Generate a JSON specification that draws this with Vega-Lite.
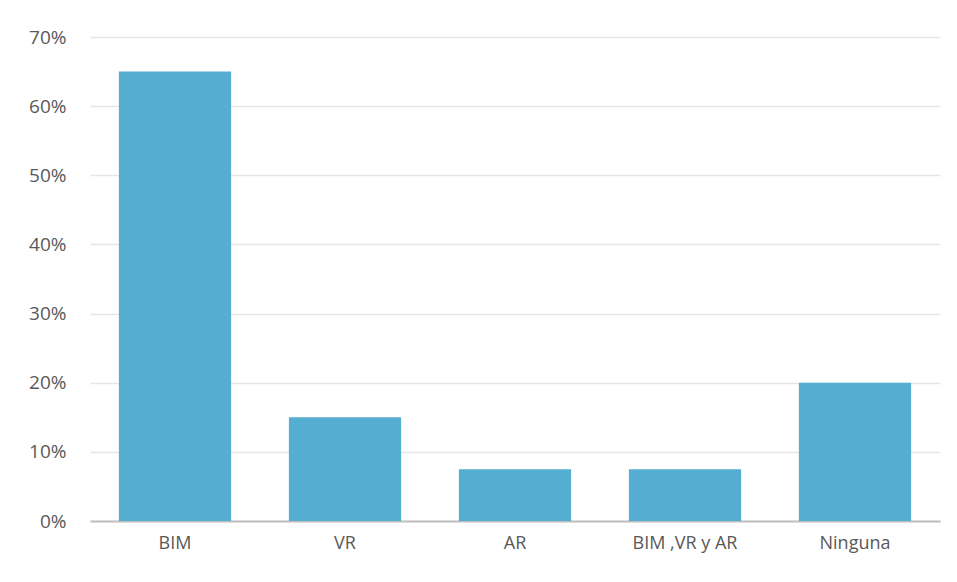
{
  "$schema": "https://vega.github.io/schema/vega-lite/v6.json",
  "width": 850,
  "height": 484,
  "autosize": {"type": "none"},
  "padding": {"left": 90, "top": 37, "right": 17, "bottom": 61},
  "background": "white",
  "config": {"view": {"stroke": null}},
  "data": {
    "values": [
      {"categoria": "BIM", "valor": 0.65},
      {"categoria": "VR", "valor": 0.15},
      {"categoria": "AR", "valor": 0.075},
      {"categoria": "BIM ,VR y AR", "valor": 0.075},
      {"categoria": "Ninguna", "valor": 0.20}
    ]
  },
  "mark": {"type": "bar", "color": "#4FABD0", "opacity": 0.97},
  "encoding": {
    "x": {
      "field": "categoria",
      "type": "nominal",
      "sort": null,
      "scale": {"paddingInner": 0.34, "paddingOuter": 0.17},
      "axis": {
        "title": null,
        "labelAngle": 0,
        "labelFont": "Open Sans",
        "labelFontSize": 18,
        "labelColor": "#595959",
        "labelPadding": 13,
        "ticks": false,
        "domainColor": "#BFBFBF",
        "domainWidth": 2
      }
    },
    "y": {
      "field": "valor",
      "type": "quantitative",
      "scale": {"domain": [0, 0.7]},
      "axis": {
        "title": null,
        "format": ".0%",
        "values": [0, 0.1, 0.2, 0.3, 0.4, 0.5, 0.6, 0.7],
        "labelOverlap": false,
        "labelFont": "Open Sans",
        "labelFontSize": 19,
        "labelColor": "#595959",
        "labelPadding": 24,
        "ticks": false,
        "domain": false,
        "gridColor": "#E6E6E6",
        "gridWidth": 1.5
      }
    }
  }
}
